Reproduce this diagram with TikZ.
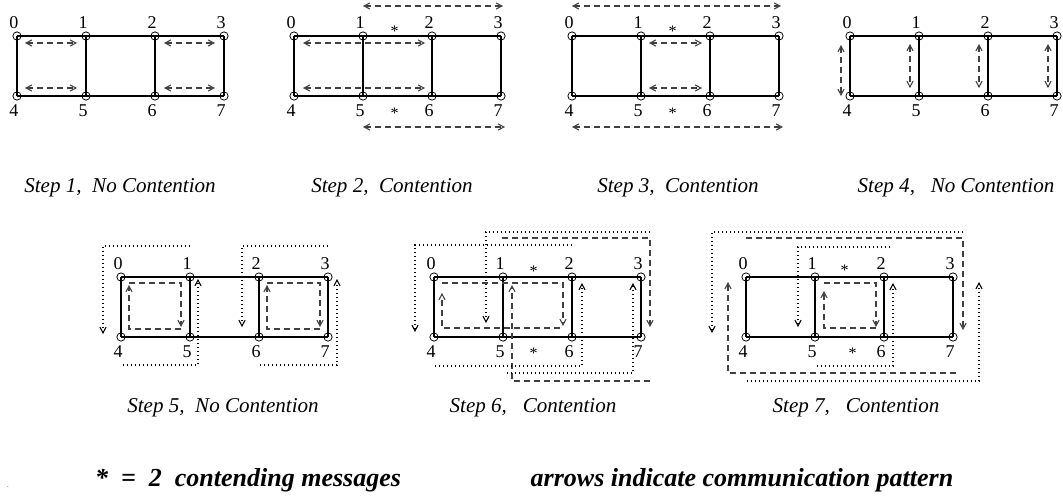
\documentclass[tikz,border=0pt]{standalone}
\usepackage{fontspec}
\setmainfont{Liberation Serif}
\usetikzlibrary{arrows.meta,calc}
\newcommand\drawmesh[3]{%
  \foreach \i in {0,1,2,3}{%
    \pgfmathtruncatemacro\j{\i+4}%
    \node[vtx] (#1\i) at ({#2+69*\i},#3) {};
    \node[vtx] (#1\j) at ({#2+69*\i},{#3+60}) {};
    \node[lbl] (#1l\i) at ({#2+69*\i-3},{#3-13}) {\i};
    \node[lbl] (#1l\j) at ({#2+69*\i-3},{#3+75}) {\j};
  }
  \draw[edge] (#10.center)--(#11.center)--(#12.center)--(#13.center)
     (#14.center)--(#15.center)--(#16.center)--(#17.center)
     (#10.center)--(#14.center) (#11.center)--(#15.center)
     (#12.center)--(#16.center) (#13.center)--(#17.center);
}
\begin{document}
\begin{tikzpicture}[x=0.75pt,y=-0.75pt,
  vtx/.style={circle,draw,line width=0.6pt,inner sep=0pt,minimum size=6.2pt},
  lbl/.style={inner sep=0pt,font=\fontsize{13.5}{13.5}\selectfont},
  ast/.style={inner sep=0pt,font=\fontsize{12}{12}\selectfont},
  edge/.style={line width=1.1pt},
  msg/.style={draw=black!75,line width=0.8pt,dash pattern=on 4.5pt off 3pt},
  dot/.style={line width=0.8pt,dash pattern=on 0.8pt off 2.2pt},
  captxt/.style={inner sep=0pt,font=\fontsize{15.8}{15.8}\selectfont\itshape},
  legtxt/.style={inner sep=0pt,font=\fontsize{19.5}{19.5}\selectfont\bfseries\itshape},
  >={Straight Barb[length=4.3pt,width=4.6pt]}]
\useasboundingbox (0,0) rectangle (1063,497);
% ---- meshes
\drawmesh{a}{17}{36}
\drawmesh{b}{294}{36}
\drawmesh{c}{572}{36}
\drawmesh{d}{850}{36}
\drawmesh{e}{121}{277}
\drawmesh{f}{434}{277}
\drawmesh{g}{746}{277}
% ---- step 1
\draw[msg,<->] ($(a0)+(8,7)$) -- ($(a1)+(-9,7)$);
\draw[msg,<->] ($(a4)+(8,-8)$) -- ($(a5)+(-9,-8)$);
\draw[msg,<->] ($(a2)+(9,7)$) -- ($(a3)+(-9,7)$);
\draw[msg,<->] ($(a6)+(9,-8)$) -- ($(a7)+(-9,-8)$);
% ---- step 2
\draw[msg,<->] ($(b1)+(0,-30)$) -- ($(b3)+(2,-30)$);
\draw[msg,<->] ($(b0)+(9,7)$) -- ($(b2)+(-7,7)$);
\draw[msg,<->] ($(b4)+(9,-8)$) -- ($(b6)+(-7,-8)$);
\draw[msg,<->] ($(b5)+(0,31)$) -- ($(b7)+(4,31)$);
\node[ast] (bs1) at ($(b1)!0.5!(b2)+(-3,-5)$) {*};
\node[ast] (bs2) at ($(b5)!0.5!(b6)+(-3,17)$) {*};
% ---- step 3
\draw[msg,<->] ($(c0)+(0,-30)$) -- ($(c3)+(2,-30)$);
\draw[msg,<->] ($(c1)+(8,7)$) -- ($(c2)+(-8,7)$);
\draw[msg,<->] ($(c5)+(8,-8)$) -- ($(c6)+(-8,-8)$);
\draw[msg,<->] ($(c4)+(0,31)$) -- ($(c7)+(4,31)$);
\node[ast] (cs1) at ($(c1)!0.5!(c2)+(-3,-5)$) {*};
\node[ast] (cs2) at ($(c5)!0.5!(c6)+(-3,17)$) {*};
% ---- step 4
\draw[msg,<->] ($(d0)+(-9,9)$) -- ($(d4)+(-9,0)$);
\draw[msg,<->] ($(d1)+(-9,8)$) -- ($(d5)+(-9,-8)$);
\draw[msg,<->] ($(d2)+(-9,8)$) -- ($(d6)+(-9,-8)$);
\draw[msg,<->] ($(d3)+(-9,8)$) -- ($(d7)+(-9,-8)$);
% ---- step 5
\draw[msg,->] ($(e5)+(-9,-8)$) -- ($(e4)+(8,-8)$) -- ($(e0)+(8,8)$);
\draw[msg,->] ($(e0)+(8,6)$) -- ($(e1)+(-9,6)$) -- ($(e5)+(-9,-10)$);
\draw[msg,->] ($(e7)+(-8,-8)$) -- ($(e6)+(8,-8)$) -- ($(e2)+(8,8)$);
\draw[msg,->] ($(e2)+(8,6)$) -- ($(e3)+(-8,6)$) -- ($(e7)+(-8,-10)$);
\draw[dot,->] ($(e1)+(0,-31)$) -- ($(e0)+(-18,-31)$) -- ($(e4)+(-18,-3)$);
\draw[dot,->] ($(e4)+(2,28)$) -- ($(e5)+(8,28)$) -- ($(e1)+(8,2)$);
\draw[dot,->] ($(e3)+(0,-31)$) -- ($(e2)+(-17,-31)$) -- ($(e6)+(-17,-10)$);
\draw[dot,->] ($(e6)+(1,28)$) -- ($(e7)+(9,28)$) -- ($(e3)+(9,2)$);
% ---- step 6
\draw[msg,->] ($(f6)+(-12,-9)$) -- ($(f4)+(8,-9)$) -- ($(f0)+(8,16)$);
\draw[msg,->] ($(f0)+(8,6)$) -- ($(f2)+(-9,6)$) -- ($(f6)+(-9,-11)$);
\draw[msg,->] ($(f7)+(9,44)$) -- ($(f5)+(9,44)$) -- ($(f1)+(9,8)$);
\draw[msg,->] ($(f1)+(-1,-39)$) -- ($(f3)+(9,-39)$) -- ($(f7)+(9,-10)$);
\draw[dot,->] ($(f2)+(0,-32)$) -- ($(f0)+(-19,-32)$) -- ($(f4)+(-19,-5)$);
\draw[dot,->] ($(f3)+(9,-45)$) -- ($(f1)+(-17,-45)$) -- ($(f5)+(-17,-14)$);
\draw[dot,->] ($(f4)+(1,29)$) -- ($(f6)+(10,29)$) -- ($(f2)+(10,6)$);
\draw[dot,->] ($(f5)+(4,36)$) -- ($(f7)+(-8,36)$) -- ($(f3)+(-8,6)$);
\node[ast] (fs1) at ($(f1)!0.5!(f2)+(-4,-6)$) {*};
\node[ast] (fs2) at ($(f5)!0.5!(f6)+(-4,16)$) {*};
% ---- step 7
\draw[msg,->] ($(g6)+(-8,-9)$) -- ($(g5)+(9,-9)$) -- ($(g1)+(9,14)$);
\draw[msg,->] ($(g1)+(9,6)$) -- ($(g2)+(-8,6)$) -- ($(g6)+(-8,-10)$);
\draw[msg,->] ($(g0)+(0,-39)$) -- ($(g3)+(10,-39)$) -- ($(g7)+(10,-7)$);
\draw[msg,->] ($(g7)+(3,36)$) -- ($(g4)+(-18,36)$) -- ($(g0)+(-18,5)$);
\draw[dot,->] ($(g3)+(10,-45)$) -- ($(g0)+(-34,-45)$) -- ($(g4)+(-34,-4)$);
\draw[dot,->] ($(g2)+(6,-30)$) -- ($(g1)+(-17,-30)$) -- ($(g5)+(-17,-10)$);
\draw[dot,->] ($(g5)+(2,29)$) -- ($(g6)+(9,29)$) -- ($(g2)+(9,6)$);
\draw[dot,->] ($(g4)+(1,44)$) -- ($(g7)+(26,44)$) -- ($(g3)+(26,5)$);
\node[ast] (gs1) at ($(g1)!0.5!(g2)+(-5,-7)$) {*};
\node[ast] (gs2) at ($(g5)!0.5!(g6)+(3,16)$) {*};
% ---- captions
\node[captxt] (cp1) at (120,188) {Step 1,\ \ No Contention};
\node[captxt] (cp2) at (392,188) {Step 2,\ \ Contention};
\node[captxt] (cp3) at (678,188) {Step 3,\ \ Contention};
\node[captxt] (cp4) at (956,188) {Step 4,\ \ \ No Contention};
\node[captxt] (cp5) at (223,408) {Step 5,\ \ No Contention};
\node[captxt] (cp6) at (533,408) {Step 6,\ \ \ Contention};
\node[captxt] (cp7) at (856,408) {Step 7,\ \ \ Contention};
\node[legtxt] (lg1) at (248,480) {*\ \ =\ \ 2\ \ contending messages};
\node[legtxt] (lg2) at (742,480) {arrows indicate communication pattern};
\node[inner sep=0pt,font=\tiny] (dt) at (8,487) {.};
\end{tikzpicture}
\end{document}
